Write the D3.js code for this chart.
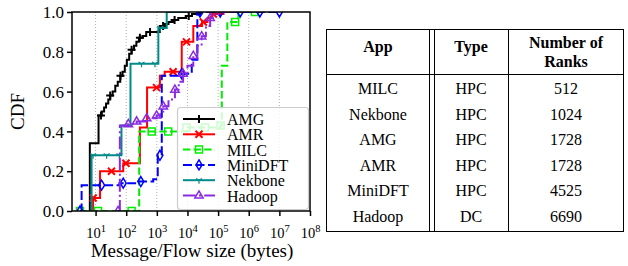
<!DOCTYPE html>
<html>
<head>
<meta charset="utf-8">
<script src="https://cdn.jsdelivr.net/npm/d3@7"></script>
<style>
  body { margin: 0; background: #fff; }
  text { font-family: "Liberation Serif", "DejaVu Serif", serif; fill: #000; }
</style>
</head>
<body>
<svg id="chart" width="628" height="266"></svg>
<script>
// step CDF points [bytes, cdf]
var amgPts = [[6.5,0],[6.5,0.34],[12.5,0.48],[16,0.50],[19,0.52],[22,0.54],[26,0.56],[30,0.58],[36,0.60],[44,0.63],
  [53,0.65],[64,0.68],[76,0.70],[90,0.73],[105,0.76],[125,0.79],[150,0.81],[180,0.83],[215,0.85],[260,0.87],
  [340,0.88],[450,0.90],[1250,0.93],[1700,0.94],[2400,0.95],[3600,0.96],[5000,0.97],[9000,0.98],[14000,0.99],[28000,1.0]];
var amgMarks = [15, 30, 65, 150, 280, 600, 1600, 3800, 11000];

var amrPts = [[8.3,0],[8.3,0.065],[14,0.20],[80,0.24],[280,0.42],[480,0.62],[1260,0.68],[1800,0.70],[6500,0.85],
  [15500,0.93],[30000,0.95],[45000,0.97],[65000,0.99],[150000,1.0],[600000,1.0]];
var amrMarks = [8.3, 33, 98, 980, 3400, 9300, 33000, 70000];

var milcPts = [[3.1,0],[265,0.40],[9300,0.42],[120000,0.43],[132000,0.73],[200000,0.95],[460000,1.0],[3e6,1.0]];
var milcMarks = [3.1, 12, 150, 680, 2350, 9300, 37000, 120000, 360000, 1.6e6];

var miniPts = [[3.1,0],[3.5,0.13],[60,0.14],[250,0.148],[760,0.16],[1070,0.28],[1450,0.68],[6500,0.69],
  [13800,0.76],[21000,1.0],[1e7,1.0]];
var miniMarks = [3.1, 15.7, 80, 300, 1260, 6500, 25600, 117000, 525000, 2.3e6, 1e7];

var nekPts = [[7.4,0],[7.4,0.28],[70,0.43],[138,0.74],[1120,0.92],[2100,1.0],[10000,1.0]];
var nekMarks = [8.3, 23, 60, 316, 870, 1300];

var hadPts = [[54,0],[62,0.43],[117,0.437],[219,0.45],[465,0.466],[980,0.48],[1300,0.50],[1620,0.526],[2400,0.56],
  [3900,0.61],[5200,0.65],[7200,0.69],[10000,0.73],[15500,0.78],[21000,0.83],[29000,0.878],[40000,0.93],
  [55000,0.97],[75000,0.99],[100000,1.0],[300000,1.0]];
var hadMarks = [54, 117, 219, 465, 980, 1620, 3900, 7200, 15500, 29000, 55000];

var xTicks = [1e1, 1e2, 1e3, 1e4, 1e5, 1e6, 1e7, 1e8];
var yTicks = [0, 0.2, 0.4, 0.6, 0.8, 1.0];

// table
var tblApps = ['MILC', 'Nekbone', 'AMG', 'AMR', 'MiniDFT', 'Hadoop'];
var tblTypes = ['HPC', 'HPC', 'HPC', 'HPC', 'HPC', 'DC'];
var tblRanks = [512, 1024, 1728, 1728, 4525, 6690];

var series = [
  { name: 'AMG', pts: amgPts, marks: amgMarks, color: '#000', dash: null, marker: 'plus' },
  { name: 'AMR', pts: amrPts, marks: amrMarks, color: '#ff0000', dash: null, marker: 'x' },
  { name: 'MILC', pts: milcPts, marks: milcMarks, color: '#00ee00', dash: '7.4,3.2', marker: 'square' },
  { name: 'MiniDFT', pts: miniPts, marks: miniMarks, color: '#0000ff', dash: '9,3.5', marker: 'diamond' },
  { name: 'Nekbone', pts: nekPts, marks: nekMarks, color: '#008b8b', dash: null, marker: 'tri' },
  { name: 'Hadoop', pts: hadPts, marks: hadMarks, color: '#8a2be2', dash: '12.8,3.2,2,3.2', marker: 'triangle' }
];

var svg = d3.select('#chart');
var plot = { left: 72, right: 310, top: 12, bottom: 211 };

var x = d3.scaleLog().domain([1.7, 1e8]).range([plot.left, plot.right]);
var y = d3.scaleLinear().domain([0, 1]).range([plot.bottom, plot.top]);

svg.append('defs').append('clipPath').attr('id', 'clip')
  .append('rect')
  .attr('x', plot.left).attr('y', plot.top)
  .attr('width', plot.right - plot.left).attr('height', plot.bottom - plot.top);

// vertical dotted grid
svg.append('g').selectAll('line').data(xTicks.slice(0, -1)).enter()
  .append('line')
  .attr('x1', function (d) { return x(d); }).attr('x2', function (d) { return x(d); })
  .attr('y1', plot.top).attr('y2', plot.bottom)
  .attr('stroke', '#b0b0b0').attr('stroke-width', 1).attr('stroke-dasharray', '1,2');

function markerPath(type) {
  switch (type) {
    case 'plus': return 'M-4,0H4M0,-4V4';
    case 'x': return 'M-3.5,-3.5L3.5,3.5M-3.5,3.5L3.5,-3.5';
    case 'square': return 'M-3.5,-3.5H3.5V3.5H-3.5Z';
    case 'diamond': return 'M0,-5L3,0L0,5L-3,0Z';
    case 'tri': return 'M0,0V3.5M0,0L-3,-1.8M0,0L3,-1.8';
    case 'triangle': return 'M0,-4.6L4.2,2.6L-4.2,2.6Z';
  }
}
function markerWidth(type) {
  return (type === 'plus' || type === 'x') ? 2 : (type === 'tri' ? 1.2 : 1.5);
}

var line = d3.line()
  .x(function (d) { return x(d[0]); })
  .y(function (d) { return y(d[1]); })
  .curve(d3.curveStepAfter);

var lines = svg.append('g').attr('clip-path', 'url(#clip)');

series.forEach(function (s) {
  var xs = s.pts.map(function (p) { return p[0]; });
  var valAt = function (v) {
    var i = d3.bisectRight(xs, v) - 1;
    return i < 0 ? 0 : s.pts[i][1];
  };
  lines.append('path')
    .datum(s.pts)
    .attr('d', line)
    .attr('fill', 'none')
    .attr('stroke', s.color)
    .attr('stroke-width', 2)
    .attr('stroke-dasharray', s.dash);
  lines.append('g').selectAll('path').data(s.marks).enter()
    .append('path')
    .attr('transform', function (d) { return 'translate(' + x(d) + ',' + y(valAt(d)) + ')'; })
    .attr('d', markerPath(s.marker))
    .attr('fill', 'none')
    .attr('stroke', s.color)
    .attr('stroke-width', markerWidth(s.marker));
});

// frame
svg.append('rect')
  .attr('x', plot.left).attr('y', plot.top)
  .attr('width', plot.right - plot.left).attr('height', plot.bottom - plot.top)
  .attr('fill', 'none').attr('stroke', '#000').attr('stroke-width', 1.5);

// axes
var xAxis = svg.append('g')
  .attr('transform', 'translate(0,' + plot.bottom + ')')
  .call(d3.axisBottom(x).tickValues(xTicks).tickSize(5).tickFormat(''));
var yAxis = svg.append('g')
  .attr('transform', 'translate(' + plot.left + ',0)')
  .call(d3.axisLeft(y).tickValues(yTicks).tickSize(5).tickFormat(d3.format('.1f')));
[xAxis, yAxis].forEach(function (a) {
  a.select('.domain').remove();
  a.selectAll('.tick line').attr('stroke', '#000').attr('stroke-width', 1.5);
});
yAxis.selectAll('.tick text')
  .attr('font-family', '"Liberation Serif", serif')
  .attr('font-size', 17).attr('x', -8).attr('dy', '0.34em');

xAxis.selectAll('.tick').each(function (d) {
  var t = d3.select(this).append('text')
    .attr('y', 27).attr('text-anchor', 'middle')
    .attr('font-family', '"Liberation Serif", serif').attr('font-size', 14.5);
  t.append('tspan').text('10');
  t.append('tspan').attr('dy', -6).attr('font-size', 10.5).text(Math.round(Math.log10(d)));
});

svg.append('text')
  .attr('x', (plot.left + plot.right) / 2 + 1).attr('y', 257)
  .attr('text-anchor', 'middle').attr('font-size', 19)
  .text('Message/Flow size (bytes)');
svg.append('text')
  .attr('transform', 'translate(24,' + ((plot.top + plot.bottom) / 2) + ') rotate(-90)')
  .attr('text-anchor', 'middle').attr('font-size', 19)
  .text('CDF');

// legend
var lg = svg.append('g');
lg.append('rect')
  .attr('x', 177.5).attr('y', 107.5).attr('width', 131).attr('height', 102).attr('rx', 3)
  .attr('fill', '#fff').attr('fill-opacity', 0.8).attr('stroke', '#cccccc').attr('stroke-width', 1.2);
series.forEach(function (s, i) {
  var by = 125 + i * 15.3;
  var g = lg.append('g').attr('transform', 'translate(0,' + by + ')');
  g.append('line').attr('x1', 183).attr('x2', 215).attr('y1', -6).attr('y2', -6)
    .attr('stroke', s.color).attr('stroke-width', 2).attr('stroke-dasharray', s.dash);
  g.append('path').attr('transform', 'translate(199,-6)').attr('d', markerPath(s.marker))
    .attr('fill', 'none').attr('stroke', s.color).attr('stroke-width', markerWidth(s.marker));
  g.append('text').attr('x', 227).attr('y', 0).attr('font-size', 16).text(s.name);
});

// table
var tb = svg.append('g').attr('stroke', '#000').attr('stroke-width', 1);
var tL = 326.5, tR = 623.5, tT = 29.5, tB = 231.5, tH = 74.5;
tb.append('rect').attr('x', tL).attr('y', tT).attr('width', tR - tL).attr('height', tB - tT).attr('fill', 'none');
[429.5, 434.5, 508.5].forEach(function (cx) {
  tb.append('line').attr('x1', cx).attr('x2', cx).attr('y1', tT).attr('y2', tB);
});
tb.append('line').attr('x1', tL).attr('x2', tR).attr('y1', tH).attr('y2', tH);

var colX = [378, 471, 566];
var hd = svg.append('g').attr('font-weight', 'bold').attr('font-size', 16).attr('text-anchor', 'middle');
hd.append('text').attr('x', colX[0]).attr('y', 52).text('App');
hd.append('text').attr('x', colX[1]).attr('y', 52).text('Type');
hd.append('text').attr('x', colX[2]).attr('y', 48).text('Number of');
hd.append('text').attr('x', colX[2]).attr('y', 66.5).text('Ranks');

var rows = svg.append('g').attr('font-size', 16).attr('text-anchor', 'middle');
tblApps.forEach(function (a, i) {
  var by = 94 + i * 25.6;
  rows.append('text').attr('x', colX[0]).attr('y', by).text(a);
  rows.append('text').attr('x', colX[1]).attr('y', by).text(tblTypes[i]);
  rows.append('text').attr('x', colX[2]).attr('y', by).text(tblRanks[i]);
});
</script>
</body>
</html>
